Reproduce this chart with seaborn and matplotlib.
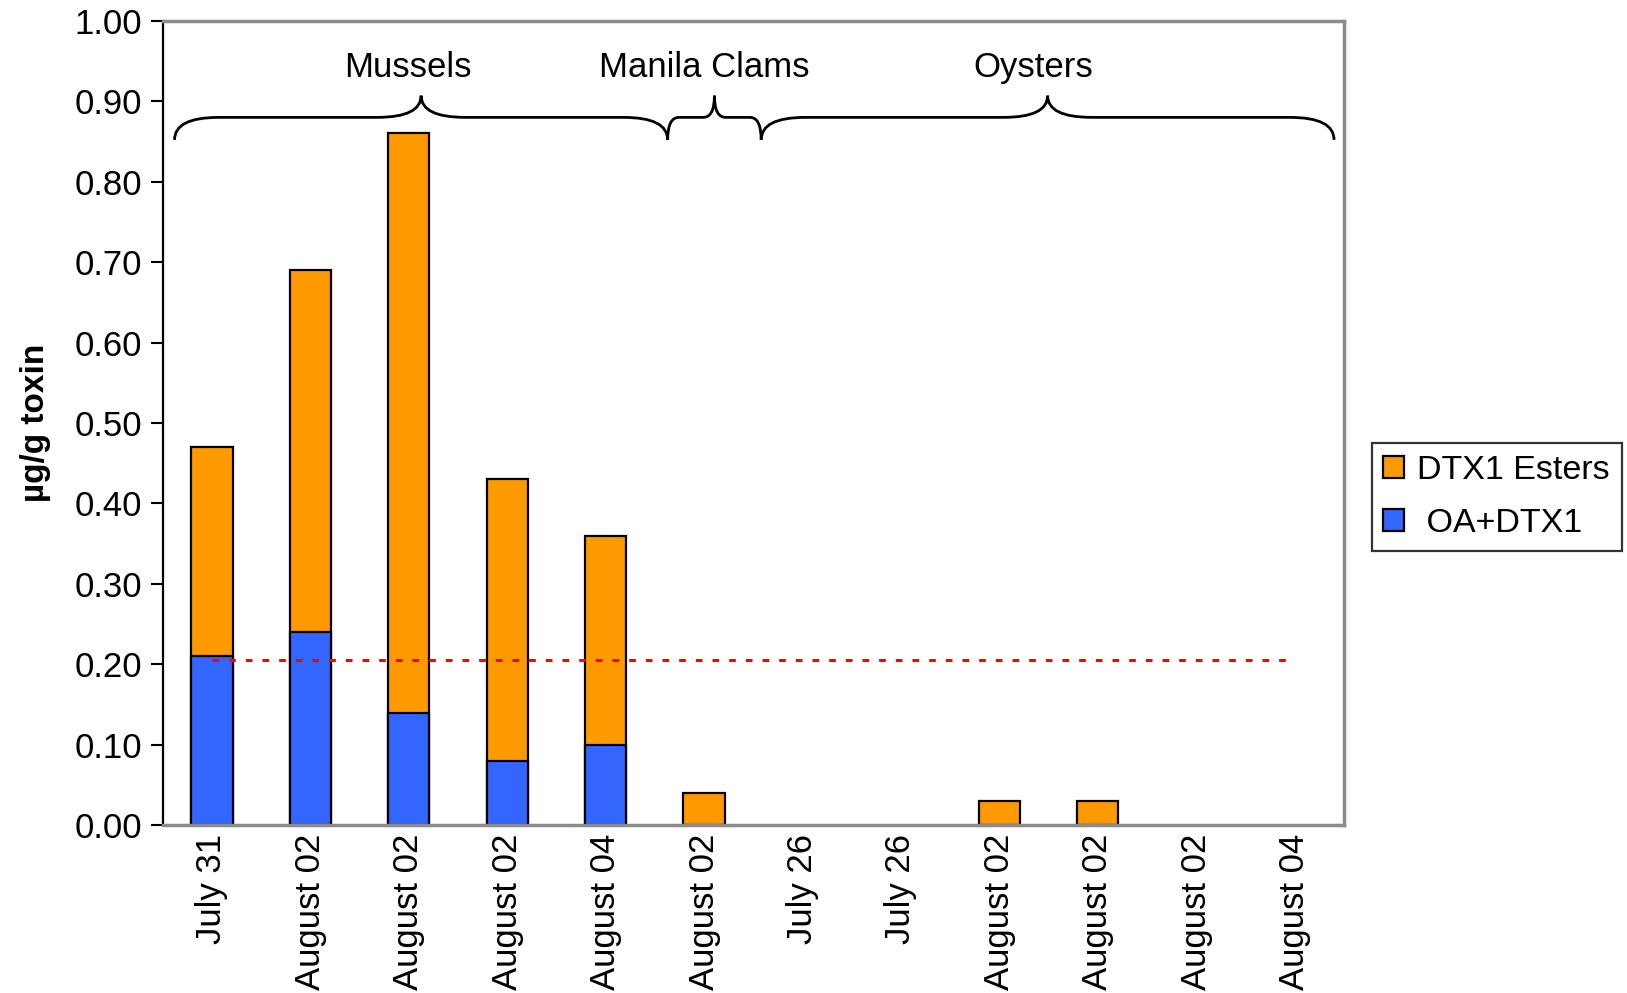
import numpy as np
import pandas as pd
import seaborn as sns
import matplotlib.pyplot as plt
from matplotlib.path import Path
from matplotlib.patches import PathPatch, Patch

# ------------------ DATA ------------------
sample_dates = ['July 31', 'August 02', 'August 02', 'August 02', 'August 04', 'August 02',
                'July 26', 'July 26', 'August 02', 'August 02', 'August 02', 'August 04']
oa_dtx1 = [0.21, 0.24, 0.14, 0.08, 0.10, 0.00, 0.00, 0.00, 0.00, 0.00, 0.00, 0.00]
dtx1_esters = [0.26, 0.45, 0.72, 0.35, 0.26, 0.04, 0.00, 0.00, 0.03, 0.03, 0.00, 0.00]
reg_limit = 0.205

# shellfish groups, brace spans in category units
groups = ['Mussels', 'Manila Clams', 'Oysters']
brace_start = [-0.38, 4.63, 5.58]
brace_end = [4.63, 5.58, 11.40]
label_x = [1.99, 5.0, 8.34]

df = pd.DataFrame({
    'Sample': [f'S{i}' for i in range(len(sample_dates))],
    'OA+DTX1': oa_dtx1,
    'DTX1 Esters': dtx1_esters,
})
df['Total'] = df['OA+DTX1'] + df['DTX1 Esters']

# ------------------ STYLE ------------------
sns.set_theme(style='white')
plt.rcParams['font.family'] = ['Liberation Sans', 'DejaVu Sans']
plt.rcParams['lines.scale_dashes'] = False
plt.rcParams['text.color'] = 'black'
plt.rcParams['xtick.color'] = 'black'
plt.rcParams['ytick.color'] = 'black'
plt.rcParams['axes.labelcolor'] = 'black'

orange = '#FF9900'
blue = '#3366FF'
fs = 25

fig = plt.figure(figsize=(16.27, 9.93), dpi=100)
ax = fig.add_axes([0.100, 0.169, 0.726, 0.810])

# stacked bars: total (orange) underneath, OA+DTX1 (blue) on top
sns.barplot(data=df, x='Sample', y='Total', color=orange, saturation=1,
            width=0.42, edgecolor='black', linewidth=1.6, ax=ax)
sns.barplot(data=df, x='Sample', y='OA+DTX1', color=blue, saturation=1,
            width=0.42, edgecolor='black', linewidth=1.6, ax=ax)

# empty samples leave no outline on the baseline
for p in ax.patches:
    if p.get_height() == 0:
        p.set_edgecolor('none')

# regulatory limit
ax.plot([0, len(sample_dates) - 1], [reg_limit, reg_limit], color='#FF0000',
        linewidth=2.2, linestyle=(0, (4.8, 7.2)))

ax.set_ylim(0, 1.0)
ax.set_xlim(-0.5, len(sample_dates) - 0.5)
ax.set_yticks(np.arange(0, 1.01, 0.1))
ax.yaxis.set_major_formatter(lambda v, _: f'{v:.2f}')
ax.set_xticks(range(len(sample_dates)))
ax.set_xticklabels(sample_dates, rotation=90, fontsize=fs)
ax.tick_params(axis='y', labelsize=fs, length=9, width=1.5,
               direction='out', left=True, pad=6)
ax.tick_params(axis='x', length=0, pad=6)
ax.set_xlabel('')
ax.set_ylabel('µg/g toxin', fontsize=24, fontweight='bold', labelpad=17)

for side in ['top', 'right', 'bottom']:
    ax.spines[side].set_color('#8c8c8c')
    ax.spines[side].set_linewidth(2.5)
    ax.spines[side].set_zorder(5)
ax.spines['left'].set_color('black')
ax.spines['left'].set_linewidth(1.6)


# ------------------ BRACES ------------------
def draw_brace(ax, x0, x1, y0=0.852, yh=0.880, yt=0.907):
    xm = (x0 + x1) / 2
    r = min(0.45, (x1 - x0) * 0.12)
    verts = [
        (x0, y0), (x0, yh), (x0 + r, yh),
        (xm - r, yh), (xm, yh), (xm, yt),
        (xm, yh), (xm + r, yh),
        (x1 - r, yh), (x1, yh), (x1, y0),
    ]
    codes = [Path.MOVETO, Path.CURVE3, Path.CURVE3,
             Path.LINETO, Path.CURVE3, Path.CURVE3,
             Path.CURVE3, Path.CURVE3,
             Path.LINETO, Path.CURVE3, Path.CURVE3]
    ax.add_patch(PathPatch(Path(verts, codes), facecolor='none',
                           edgecolor='black', linewidth=2, clip_on=False))


for name, x0, x1, lx in zip(groups, brace_start, brace_end, label_x):
    draw_brace(ax, x0, x1)
    ax.text(lx, 0.942, name, ha='center', va='center', fontsize=fs)

# ------------------ LEGEND ------------------
handles = [Patch(facecolor=orange, edgecolor='black', linewidth=1.6),
           Patch(facecolor=blue, edgecolor='black', linewidth=1.6)]
leg = fig.legend(handles, ['DTX1 Esters', ' OA+DTX1'], loc='center left',
                 bbox_to_anchor=(0.843, 0.4995), fontsize=24.5, frameon=True,
                 fancybox=False, edgecolor='black', handlelength=0.6,
                 handleheight=0.6, handletextpad=0.4, borderpad=0.35,
                 labelspacing=0.65, borderaxespad=0)
leg.get_frame().set_linewidth(1.6)

fig.savefig('out.png', dpi=100)
plt.close(fig)
